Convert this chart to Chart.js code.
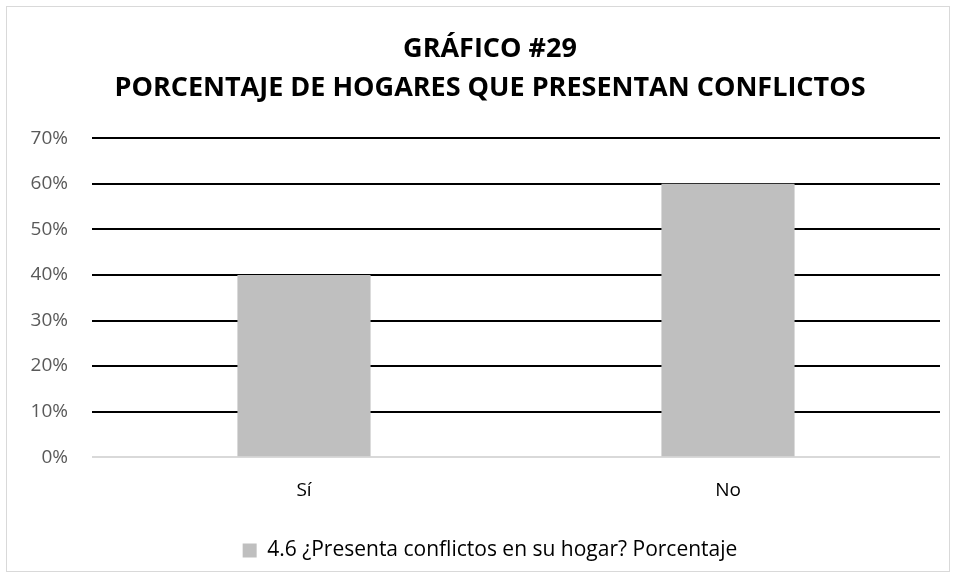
<!DOCTYPE html>
<html>
<head>
<meta charset="utf-8">
<script src="https://cdn.jsdelivr.net/npm/chart.js@4/dist/chart.umd.min.js"></script>
<style>
  html, body { margin: 0; padding: 0; background: #fff; }
  #wrap { position: absolute; left: 6px; top: 6px; width: 944px; height: 566px; border: 1px solid #d9d9d9; box-sizing: border-box; }
  #box { position: absolute; left: 0; top: 0; width: 958px; height: 576px; }
</style>
</head>
<body>
<div id="wrap"></div>
<div id="box"><canvas id="myChart" width="958" height="576"></canvas></div>
<script>
// datos del gráfico
const categorias = ["Sí", "No"];
const porcentajes = [40, 60];
const nombreSerie = "4.6 ¿Presenta conflictos en su hogar? Porcentaje";
const titulo = ["GRÁFICO #29", "PORCENTAJE DE HOGARES QUE PRESENTAN CONFLICTOS"];

const fuente = "'Open Sans', 'DejaVu Sans', sans-serif";

var ctx = document.getElementById('myChart').getContext('2d');
var chart = new Chart(ctx, {
  type: 'bar',
  data: {
    labels: categorias,
    datasets: [{
      label: nombreSerie,
      data: porcentajes,
      backgroundColor: "#bfbfbf",
      borderWidth: 0,
      barPercentage: 1,
      categoryPercentage: 0.314
    }]
  },
  options: {
    responsive: false,
    animation: false,
    layout: { padding: { left: 30, right: 8, top: 8, bottom: 5 } },
    plugins: {
      title: {
        display: true,
        text: titulo,
        color: "#000",
        font: { family: fuente, size: 27, weight: 'bold', lineHeight: 1.45 },
        padding: { top: 22, bottom: 30 }
      },
      legend: {
        position: 'bottom',
        labels: {
          color: "#000",
          font: { family: fuente, size: 21 },
          boxWidth: 14,
          boxHeight: 14,
          padding: 16
        }
      },
      tooltip: { enabled: false }
    },
    scales: {
      y: {
        min: 0,
        max: 70,
        afterFit: s => { s.width = 62; },
        ticks: {
          stepSize: 10,
          color: "#595959",
          font: { family: fuente, size: 19 },
          padding: 24,
          callback: v => v + "%"
        },
        grid: {
          color: c => c.tick.value === 0 ? "#d9d9d9" : "#000",
          lineWidth: 2,
          drawTicks: false
        },
        border: { display: false }
      },
      // eje vacío a la derecha, solo para dejar margen
      yDerecha: {
        position: 'right',
        afterFit: s => { s.width = 10; },
        ticks: { display: false },
        grid: { display: false, drawTicks: false },
        border: { display: false }
      },
      x: {
        ticks: {
          color: "#000",
          font: { family: fuente, size: 19 },
          padding: 22
        },
        grid: { display: false, drawTicks: false },
        border: { display: false }
      }
    }
  }
});
</script>
</body>
</html>
